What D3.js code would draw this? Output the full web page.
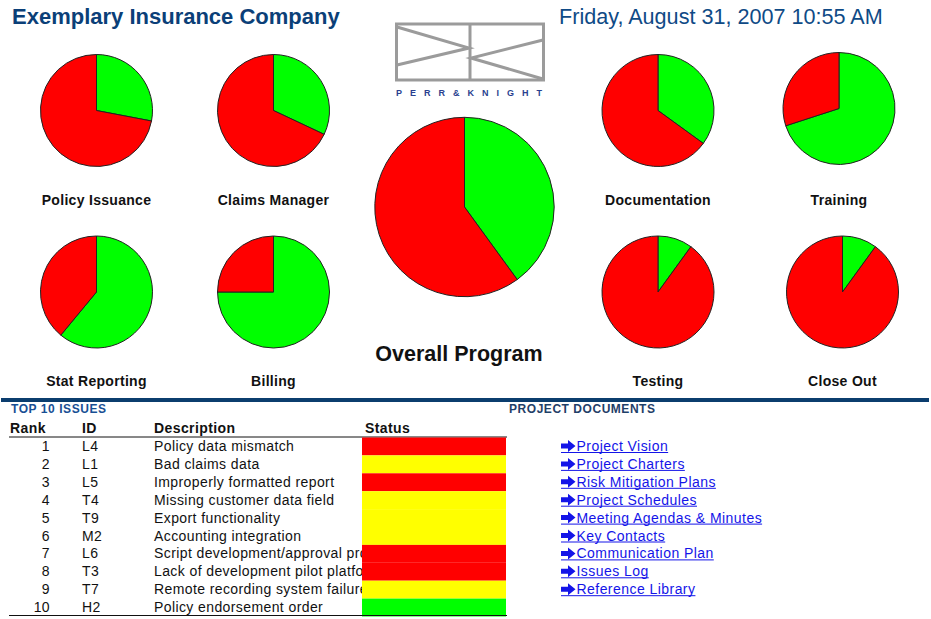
<!DOCTYPE html>
<html>
<head>
<meta charset="utf-8">
<script src="https://cdn.jsdelivr.net/npm/d3@7"></script>
<style>
  body { margin: 0; background: #fff; }
  svg { display: block; font-family: "Liberation Sans", Arial, sans-serif; }
</style>
</head>
<body>
<div id="dash"></div>
<script>
// pie data: share complete (green) and open (red), in percent
const areas = ["Policy Issuance", "Claims Manager", "Documentation", "Training",
               "Stat Reporting", "Billing", "Testing", "Close Out"];
const complete = [28, 32, 35, 70, 61, 75, 10, 10];
const open = [72, 68, 65, 30, 39, 25, 90, 90];
const overallLabel = "Overall Program";
const overallComplete = 40;
const overallOpen = 60;

// top 10 issues
const ranks = [1, 2, 3, 4, 5, 6, 7, 8, 9, 10];
const issueIds = ["L4", "L1", "L5", "T4", "T9", "M2", "L6", "T3", "T7", "H2"];
const descriptions = ["Policy data mismatch", "Bad claims data", "Improperly formatted report",
  "Missing customer data field", "Export functionality", "Accounting integration",
  "Script development/approval process", "Lack of development pilot platform",
  "Remote recording system failure", "Policy endorsement order"];
const statuses = ["red", "yellow", "red", "yellow", "yellow", "yellow", "red", "red", "yellow", "green"];

const documents = ["Project Vision", "Project Charters", "Risk Mitigation Plans", "Project Schedules",
  "Meeting Agendas & Minutes", "Key Contacts", "Communication Plan", "Issues Log", "Reference Library"];

const w = 931;
const h = 619;
const green = "#00ff00";
const red = "#ff0000";
const statusColor = { red: "#ff0000", yellow: "#ffff00", green: "#00ff00" };

const svg = d3.select("#dash").append("svg").attr("width", w).attr("height", h);

// header
svg.append("text").attr("x", 12).attr("y", 24)
  .attr("font-size", 22).attr("font-weight", "bold").attr("fill", "#0b3f78")
  .text("Exemplary Insurance Company");
svg.append("text").attr("x", 559).attr("y", 24)
  .attr("font-size", 21.6).attr("fill", "#0f4a86")
  .text("Friday, August 31, 2007 10:55 AM");

// logo
const logo = svg.append("g").attr("fill", "none").attr("stroke", "#9b9b9b").attr("stroke-width", 3);
logo.append("rect").attr("x", 396.5).attr("y", 24).attr("width", 147).attr("height", 56);
logo.append("line").attr("x1", 470).attr("y1", 24).attr("x2", 470).attr("y2", 80);
logo.append("path").attr("d", d3.line()([[397, 27], [469, 48], [397, 65]]));
logo.append("path").attr("d", d3.line()([[543, 40], [471, 58], [543, 79]]));
svg.append("text").attr("x", 396).attr("y", 96)
  .attr("font-size", 9).attr("font-weight", "bold").attr("fill", "#2a3f8f")
  .attr("textLength", 146).attr("lengthAdjust", "spacing")
  .text("PERR&KNIGHT");

// pies
const pie = d3.pie().sort(null).value(d => d.v);
const smallPos = [[96.5, 110.5], [273.5, 110.5], [658, 110.5], [839, 108.5],
                  [96.5, 292], [273.5, 292], [658, 292], [842.5, 292]];
const labelY = [205, 205, 205, 205, 386, 386, 386, 386];

function drawPie(cx, cy, r, g, rd) {
  const arc = d3.arc().innerRadius(0).outerRadius(r);
  const gp = svg.append("g").attr("transform", `translate(${cx},${cy})`);
  gp.selectAll("path")
    .data(pie([{ v: g, c: green }, { v: rd, c: red }]))
    .enter()
    .append("path")
    .attr("d", arc)
    .attr("fill", d => d.data.c)
    .attr("stroke", "#222")
    .attr("stroke-width", 1);
}

areas.forEach((name, i) => {
  const [cx, cy] = smallPos[i];
  drawPie(cx, cy, 56, complete[i], open[i]);
  svg.append("text").attr("x", cx).attr("y", labelY[i])
    .attr("text-anchor", "middle").attr("font-size", 14).attr("font-weight", "bold")
    .attr("letter-spacing", 0.3).attr("fill", "#111")
    .text(name);
});

drawPie(464.5, 207, 89.7, overallComplete, overallOpen);
svg.append("text").attr("x", 459).attr("y", 361)
  .attr("text-anchor", "middle").attr("font-size", 21.5).attr("font-weight", "bold")
  .attr("fill", "#111")
  .text(overallLabel);

// divider bar
svg.append("rect").attr("x", 1).attr("y", 398).attr("width", 928).attr("height", 4).attr("fill", "#0b3d6e");

// issues table
svg.append("text").attr("x", 11).attr("y", 413)
  .attr("font-size", 12).attr("font-weight", "bold").attr("fill", "#184f94")
  .attr("textLength", 95).attr("lengthAdjust", "spacing")
  .text("TOP 10 ISSUES");
svg.append("text").attr("x", 509).attr("y", 413)
  .attr("font-size", 12).attr("font-weight", "bold").attr("fill", "#1f4068")
  .attr("textLength", 146).attr("lengthAdjust", "spacing")
  .text("PROJECT DOCUMENTS");

const headers = [["Rank", 10], ["ID", 82], ["Description", 154], ["Status", 365]];
svg.selectAll("text.hdr")
  .data(headers)
  .enter()
  .append("text")
  .attr("class", "hdr")
  .attr("x", d => d[1]).attr("y", 433)
  .attr("font-size", 14).attr("font-weight", "bold").attr("letter-spacing", 0.4)
  .attr("fill", "#111")
  .text(d => d[0]);

const rowY = d3.scaleBand().domain(ranks).range([437.5, 616.5]);

svg.append("line").attr("x1", 9).attr("x2", 507).attr("y1", 437).attr("y2", 437)
  .attr("stroke", "#111").attr("stroke-width", 1);

const rows = svg.selectAll("g.row")
  .data(ranks.map((r, i) => ({ rank: r, id: issueIds[i], desc: descriptions[i], status: statuses[i] })))
  .enter()
  .append("g")
  .attr("class", "row")
  .attr("font-size", 14).attr("fill", "#111").attr("letter-spacing", 0.4);

rows.append("text").attr("x", 50).attr("y", d => rowY(d.rank) + 13.5)
  .attr("text-anchor", "end").text(d => d.rank);
rows.append("text").attr("x", 82).attr("y", d => rowY(d.rank) + 13.5).text(d => d.id);
rows.append("text").attr("x", 154).attr("y", d => rowY(d.rank) + 13.5).text(d => d.desc);
rows.append("rect")
  .attr("x", 362).attr("y", d => rowY(d.rank))
  .attr("width", 144).attr("height", rowY.bandwidth())
  .attr("fill", d => statusColor[d.status]);

svg.append("line").attr("x1", 9).attr("x2", 507).attr("y1", 615.5).attr("y2", 615.5)
  .attr("stroke", "#111").attr("stroke-width", 1);

// document links
const links = svg.selectAll("g.link")
  .data(documents)
  .enter()
  .append("g")
  .attr("class", "link")
  .attr("transform", (d, i) => `translate(561,${rowY(ranks[i]) + 13.5})`);

links.append("path")
  .attr("d", "M0,-7.5 h7 v-3.5 l7.5,6 l-7.5,6 v-3.5 h-7 z")
  .attr("fill", "#1414e8");
links.append("text")
  .attr("x", 15.5).attr("y", 0)
  .attr("font-size", 14).attr("letter-spacing", 0.45).attr("fill", "#1414e8")
  .text(d => d)
  .each(function () {
    const len = this.getComputedTextLength();
    d3.select(this.parentNode).append("line")
      .attr("x1", 0).attr("x2", 15.5 + len).attr("y1", 1.5).attr("y2", 1.5)
      .attr("stroke", "#1414e8").attr("stroke-width", 1);
  });
</script>
</body>
</html>
